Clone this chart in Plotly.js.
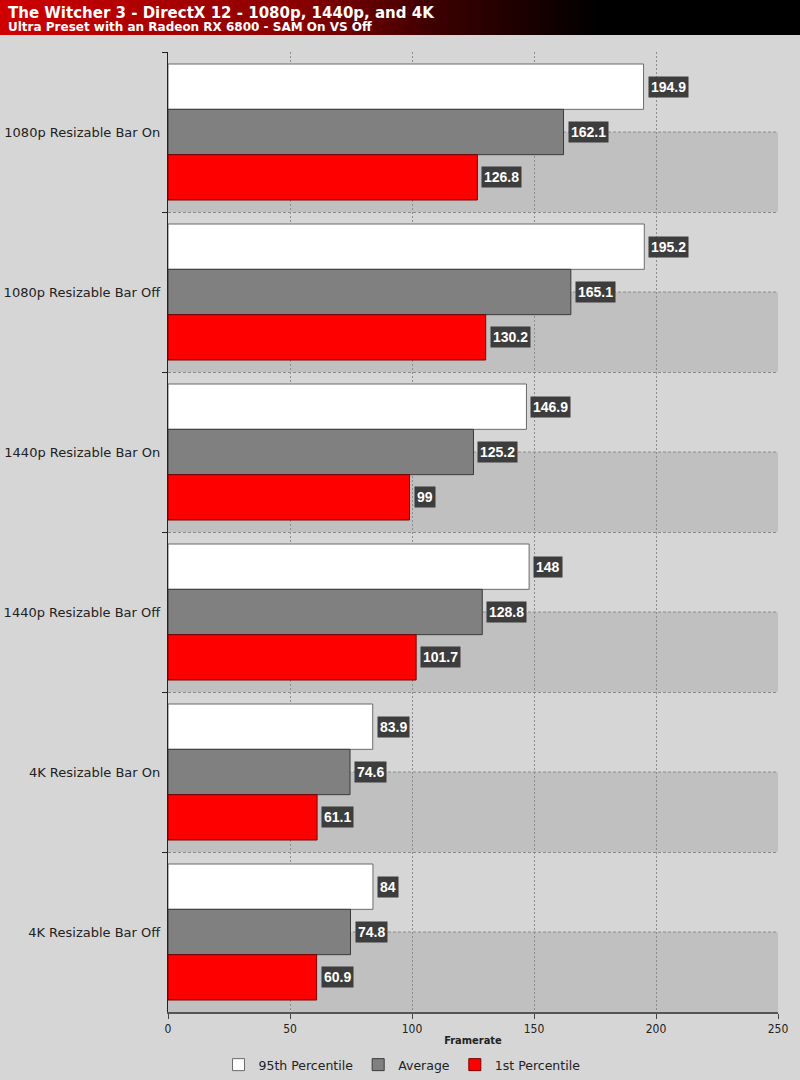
<!DOCTYPE html>
<html>
<head>
<meta charset="utf-8">
<script src="https://cdn.plot.ly/plotly-3.0.1.min.js"></script>
<style>
  html, body { margin: 0; padding: 0; background: #d6d6d6; }
  #chart { width: 800px; height: 1080px; }
</style>
</head>
<body>
<div id="chart"></div>
<script>
// Chart data
const categories = [
    '1080p Resizable Bar On',
    '1080p Resizable Bar Off',
    '1440p Resizable Bar On',
    '1440p Resizable Bar Off',
    '4K Resizable Bar On',
    '4K Resizable Bar Off'
];
const seriesNames = ['95th Percentile', 'Average', '1st Percentile'];
const p95 = [194.9, 195.2, 146.9, 148, 83.9, 84];
const avg = [162.1, 165.1, 125.2, 128.8, 74.6, 74.8];
const p1 = [126.8, 130.2, 99, 101.7, 61.1, 60.9];
const xTicks = [0, 50, 100, 150, 200, 250];

const titleText = 'The Witcher 3 - DirectX 12 - 1080p, 1440p, and 4K';
const subtitleText = 'Ultra Preset with an Radeon RX 6800 - SAM On VS Off';

// Styling
const fills = ['#ffffff', '#808080', '#ff0000'];
const outlines = ['#6a6a6a', '#3a3a3a', '#7a0000'];
const seriesValues = [p95, avg, p1];

// Page geometry (px) used to place paper-referenced items
const W = 800, H = 1080;
const M = { l: 168, r: 22, t: 52, b: 68 };
const plotW = W - M.l - M.r;
const plotH = H - M.t - M.b;
const px2x = px => (px - M.l) / plotW;
const py2y = py => (H - M.b - py) / plotH;

const traces = seriesValues.map((vals, i) => ({
    type: 'bar',
    orientation: 'h',
    name: seriesNames[i],
    y: categories,
    x: vals,
    marker: { color: fills[i], line: { color: outlines[i], width: 1 } },
    hoverinfo: 'x+name'
}));

// Value labels in dark boxes
const bandPx = plotH / categories.length;
const barPx = bandPx * 0.85 / 3;
const annotations = [];
seriesValues.forEach((vals, i) => {
    vals.forEach((v, j) => {
        annotations.push({
            x: v, y: categories[j], xref: 'x', yref: 'y',
            text: '<b>' + v + '</b>',
            showarrow: false,
            xanchor: 'left', yanchor: 'middle',
            xshift: 4,
            yshift: (1 - i) * barPx,
            bgcolor: '#3d3d3d',
            borderpad: 2,
            font: { family: 'Liberation Sans, Arial', size: 14, color: '#ffffff' }
        });
    });
});

// Title bar text
annotations.push({
    xref: 'paper', yref: 'paper', x: px2x(6), y: py2y(2),
    xanchor: 'left', yanchor: 'top', showarrow: false,
    text: '<b>' + titleText + '</b>',
    font: { family: 'DejaVu Sans', size: 15, color: '#ffffff' }
});
annotations.push({
    xref: 'paper', yref: 'paper', x: px2x(6), y: py2y(18),
    xanchor: 'left', yanchor: 'top', showarrow: false,
    text: '<b>' + subtitleText + '</b>',
    font: { family: 'DejaVu Sans', size: 12, color: '#ffffff' }
});

// Alternating half-band shading and center dashed lines
const shapes = [];
categories.forEach((c, j) => {
    shapes.push({
        type: 'rect', layer: 'below', xref: 'paper', yref: 'y',
        x0: 0, x1: 1, y0: j, y1: j + 0.5,
        fillcolor: '#c0c0c0', line: { width: 0 }
    });
    shapes.push({
        type: 'line', layer: 'below', xref: 'paper', yref: 'y',
        x0: 0, x1: 1, y0: j, y1: j,
        line: { color: '#8c8c8c', width: 1, dash: '3px,2px' }
    });
});

// Gradient title bar as an svg image
const gradSvg = '<svg xmlns="http://www.w3.org/2000/svg" width="800" height="35">' +
    '<defs><linearGradient id="g" x1="0" x2="1" y1="0" y2="0">' +
    '<stop offset="0" stop-color="#d00000"/><stop offset="0.375" stop-color="#880000"/>' +
    '<stop offset="0.55" stop-color="#3a0000"/><stop offset="0.75" stop-color="#000000"/>' +
    '<stop offset="1" stop-color="#000000"/></linearGradient></defs>' +
    '<rect width="800" height="35" fill="url(#g)"/></svg>';

const layout = {
    width: W, height: H,
    paper_bgcolor: '#d6d6d6',
    plot_bgcolor: '#d6d6d6',
    margin: M,
    barmode: 'group',
    bargap: 0.15,
    bargroupgap: 0,
    font: { family: 'DejaVu Sans', size: 12, color: '#222222' },
    xaxis: {
        range: [0, 250],
        tickvals: xTicks,
        ticks: 'outside', ticklen: 5, tickcolor: '#444',
        showline: true, linecolor: '#555555', linewidth: 2,
        showgrid: true, gridcolor: '#8c8c8c', griddash: '2px,2px', gridwidth: 1,
        zeroline: false,
        tickfont: { family: 'DejaVu Sans Condensed, DejaVu Sans', size: 12, color: '#222' },
        title: { text: '<b>Framerate</b>', standoff: 1,
                 font: { family: 'DejaVu Sans Condensed, DejaVu Sans', size: 11, color: '#222' } }
    },
    yaxis: {
        type: 'category',
        autorange: 'reversed',
        tickson: 'boundaries',
        ticks: 'outside', ticklen: 5, tickcolor: '#222',
        showline: true, linecolor: '#222222', linewidth: 1,
        showgrid: true, gridcolor: '#8c8c8c', griddash: '3px,2px', gridwidth: 1,
        tickfont: { family: 'DejaVu Sans', size: 13, color: '#222' },
        ticksuffix: ' '
    },
    legend: {
        orientation: 'h',
        xref: 'container', yref: 'container',
        x: 402 / W, xanchor: 'center',
        y: (H - 1065) / H, yanchor: 'middle',
        bgcolor: 'rgba(0,0,0,0)',
        font: { family: 'DejaVu Sans', size: 12.5, color: '#222' },
        itemwidth: 30,
        traceorder: 'normal'
    },
    images: [{
        source: 'data:image/svg+xml;base64,' + btoa(gradSvg),
        xref: 'paper', yref: 'paper',
        x: px2x(0), y: py2y(0),
        sizex: W / plotW, sizey: 35 / plotH,
        xanchor: 'left', yanchor: 'top',
        sizing: 'stretch', layer: 'above'
    }],
    shapes: shapes,
    annotations: annotations
};

Plotly.newPlot('chart', traces, layout, { displayModeBar: false, staticPlot: true });
</script>
</body>
</html>
